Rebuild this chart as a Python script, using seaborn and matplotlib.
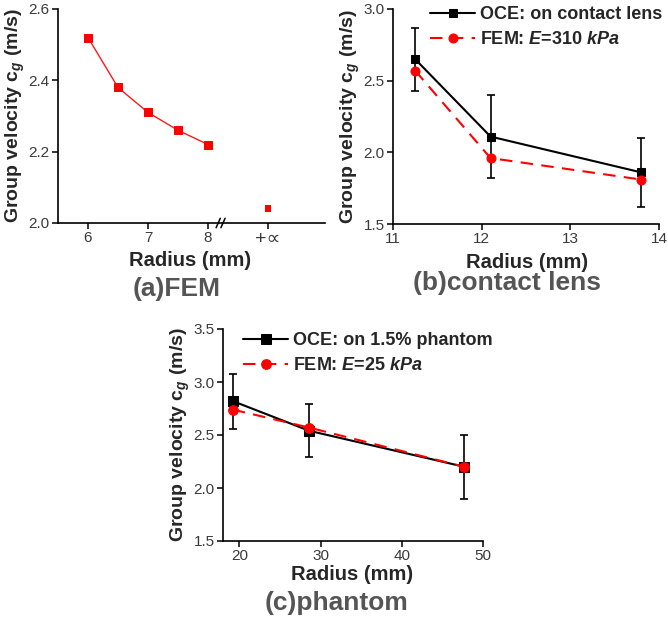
import numpy as np
import pandas as pd
import seaborn as sns
import matplotlib.pyplot as plt

# (a) FEM, radius sweep + infinite radius
fem_r = [6, 6.5, 7, 7.5, 8]
fem_v = [2.52, 2.38, 2.31, 2.26, 2.22]
fem_inf_v = [2.04]
a_ticks = [6, 7, 8, 9]
a_ticklabels = ['6', '7', '8', '+\u221d']

# (b) contact lens
lens_r = [11.25, 12.1, 13.8]
lens_oce = [2.65, 2.11, 1.86]
lens_err = [0.22, 0.29, 0.24]
lens_fem = [2.57, 1.96, 1.81]

# (c) phantom
ph_r = [19.2, 28.6, 47.7]
ph_oce = [2.82, 2.54, 2.20]
ph_err = [0.26, 0.25, 0.30]
ph_fem = [2.74, 2.57, 2.20]

sns.set_style('ticks')
plt.rcParams['font.family'] = ['Liberation Sans', 'DejaVu Sans']
plt.rcParams['mathtext.fontset'] = 'custom'
plt.rcParams['mathtext.it'] = 'Liberation Sans:italic:bold'
plt.rcParams['mathtext.rm'] = 'Liberation Sans:bold'
plt.rcParams['xtick.direction'] = 'out'
plt.rcParams['ytick.direction'] = 'out'

fig = plt.figure(figsize=(6.68, 6.19), dpi=100)
W, H = 668, 619

def px_axes(l, t, r, b):
    return fig.add_axes([l / W, 1 - b / H, (r - l) / W, (b - t) / H])

ax_a = px_axes(58, 9, 325, 223)
ax_b = px_axes(393, 9, 659, 224)
ax_c = px_axes(223, 329, 483, 541)

ylab = 'Group velocity c$_g$ (m/s)'
tick_col = '#3a3a3a'

def style(ax):
    sns.despine(ax=ax)
    for s in ['left', 'bottom']:
        ax.spines[s].set_linewidth(1.2)
        ax.spines[s].set_color('black')
    ax.tick_params(labelsize=11, labelcolor=tick_col, length=4, width=1.1,
                   color='black', pad=2)
    ax.set_ylabel(ylab, fontsize=14, fontweight='bold', labelpad=1)
    ax.set_xlabel('')

# ---- (a)
sns.lineplot(x=fem_r, y=fem_v, ax=ax_a, color='#ff1a1a', lw=1, marker='s',
             markersize=5.5, markeredgecolor='#ff0000', markerfacecolor='#ff0000')
sns.scatterplot(x=[a_ticks[-1]], y=fem_inf_v, ax=ax_a, color='#ff0000', marker='s',
                s=24, edgecolor='none')
ax_a.set_xlim(5.5, 9.95)
ax_a.set_ylim(2.0, 2.6)
ax_a.set_xticks(a_ticks)
ax_a.set_xticklabels(a_ticklabels)
ax_a.set_yticks([2.0, 2.2, 2.4, 2.6])
style(ax_a)
ax_a.get_xticklabels()[-1].set_fontsize(14)
# axis break marks
for dx in [8.17, 8.25]:
    ax_a.plot([dx - 0.035, dx + 0.035], [-0.022, 0.022], transform=ax_a.get_xaxis_transform(),
              color='black', lw=1.1, clip_on=False)

leg_kw = dict(loc='upper left', frameon=False, prop={'weight': 'bold', 'size': 13},
              handlelength=2.5, handletextpad=0.25, labelspacing=0.45,
              borderpad=0, borderaxespad=0, bbox_transform=fig.transFigure)

# ---- (b)
sns.lineplot(x=lens_r, y=lens_oce, ax=ax_b, color='black', lw=1.5, marker='s',
             markersize=5.5, markeredgecolor='black', label='OCE: on contact lens')
ax_b.errorbar(lens_r, lens_oce, yerr=lens_err, fmt='none', ecolor='black',
              elinewidth=1.2, capsize=3, capthick=1.2)
sns.lineplot(x=lens_r, y=lens_fem, ax=ax_b, color='#ff0000', lw=1.5, marker='o',
             markersize=6.5, markeredgecolor='#ff0000', label='FEM: $E$=310 $kPa$')
ax_b.lines[-1].set_linestyle((0, (6, 4)))
ax_b.set_xlim(11, 14)
ax_b.set_ylim(1.5, 3.0)
ax_b.set_xticks([11, 12, 13, 14])
ax_b.set_yticks([1.5, 2.0, 2.5, 3.0])
style(ax_b)
ax_b.legend(bbox_to_anchor=(430 / W, 1 - 6 / H), **leg_kw)

# ---- (c)
sns.lineplot(x=ph_r, y=ph_oce, ax=ax_c, color='black', lw=1.5, marker='s',
             markersize=6.5, markeredgecolor='black', label='OCE: on 1.5% phantom')
ax_c.errorbar(ph_r, ph_oce, yerr=ph_err, fmt='none', ecolor='black',
              elinewidth=1.2, capsize=3, capthick=1.2)
sns.lineplot(x=ph_r, y=ph_fem, ax=ax_c, color='#ff0000', lw=1.5, marker='o',
             markersize=7, markeredgecolor='#ff0000', label='FEM: $E$=25 $kPa$')
ax_c.lines[-1].set_linestyle((0, (6, 4)))
ax_c.set_xlim(18, 50)
ax_c.set_ylim(1.5, 3.5)
ax_c.set_xticks([20, 30, 40, 50])
ax_c.set_yticks([1.5, 2.0, 2.5, 3.0, 3.5])
style(ax_c)
ax_c.legend(bbox_to_anchor=(243 / W, 1 - 332 / H), **leg_kw)

# x labels and panel captions
for x, y in [(190, 261), (527, 263), (352, 575)]:
    fig.text(x / W, 1 - y / H, 'Radius (mm)', ha='center', va='center',
             fontsize=14.5, fontweight='bold')
for x, y, t in [(177, 289, '(a)FEM'), (507, 283, '(b)contact lens'), (337, 603, '(c)phantom')]:
    fig.text(x / W, 1 - y / H, t, ha='center', va='center', fontsize=19,
             fontweight='bold', color='#555555')

fig.savefig('out.png', dpi=100)
